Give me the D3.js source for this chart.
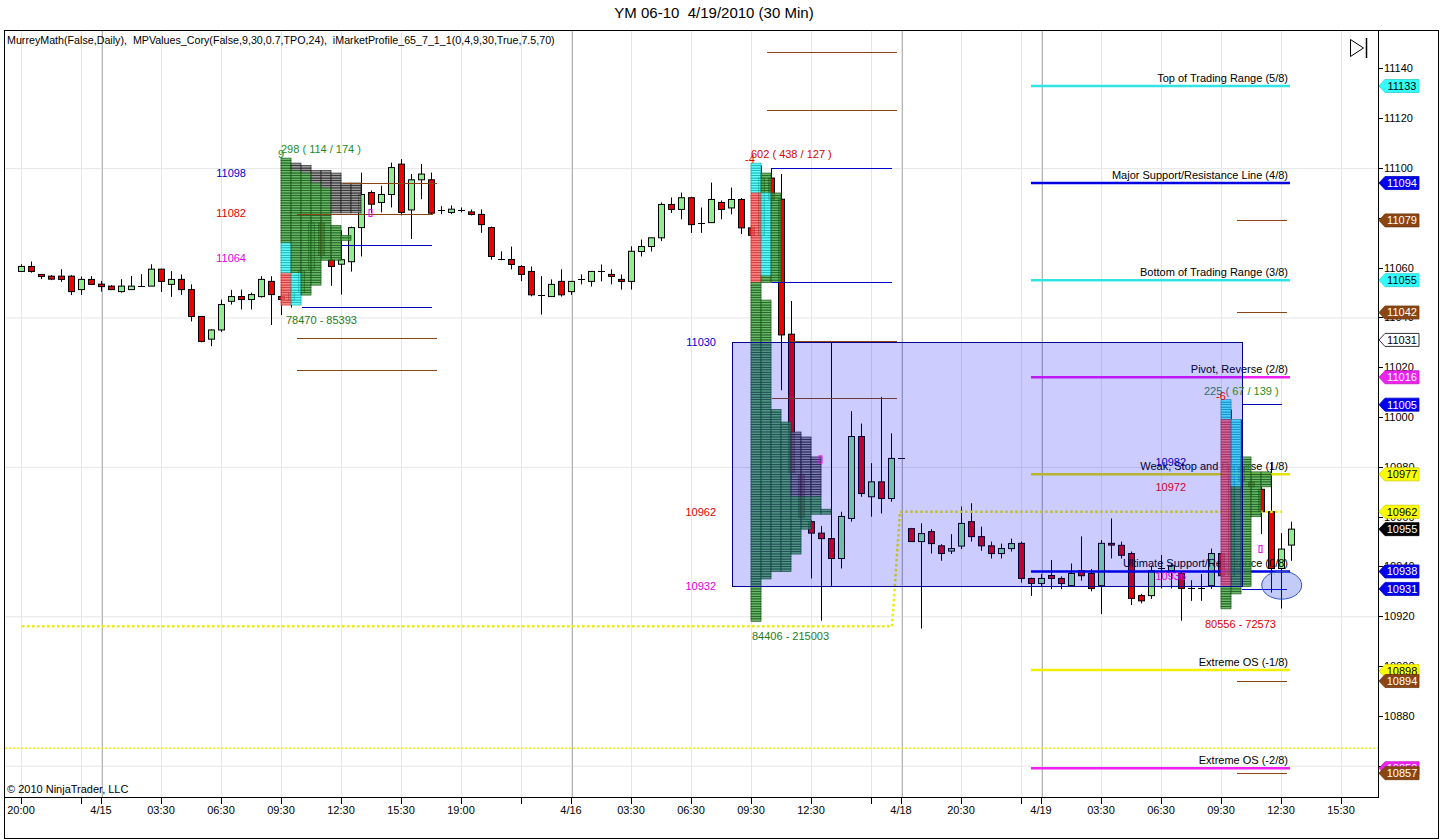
<!DOCTYPE html>
<html><head><meta charset="utf-8">
<script src="https://cdn.jsdelivr.net/npm/d3@7"></script>
<style>
body{margin:0;background:#fff}
svg{display:block}
text{font-family:"Liberation Sans Narrow","Arial Narrow","Liberation Sans",Arial,sans-serif;white-space:pre}
</style>
</head><body>
<svg id="c" width="1440" height="840"></svg>
<script>
// ---------------- DATA ----------------
const opens =[11058.5,11060.5,11057.3,11056.6,11056.6,11056.6,11051.2,11055.3,11053.4,11052.6,11050.4,11051.2,11052.6,11052.6,11059.4,11053.3,11055.3,11051.2,11040.4,11031.3,11035,11046.5,11048.4,11047.2,11048.4,11054.5,11048.4,11047,11050,11059.4,11078,11063.2,11061.4,11062.4,11076.1,11090.2,11086.2,11089.4,11101.6,11083.2,11095.3,11095.3,11083.1,11082.2,11083.2,11082.4,11081.4,11076.1,11063.3,11063.3,11060.5,11058.5,11049.2,11048.4,11054.5,11050.4,11055.3,11054.5,11058.5,11057.3,11055.3,11054.5,11066.5,11068.5,11072,11085.4,11083.4,11088.1,11078.1,11078.1,11086.2,11084,11087.4,11076,11073,11096,11087.5,11033.3,10977,10958,10953.4,10951.2,10943.2,10959.3,10992.2,10968,10974,10967.3,10983.4,10955.2,10950,10954,10948.3,10946.2,10948.2,10958,10952,10948.3,10945.2,10947.2,10949.3,10935.2,10933.2,10936.4,10935.2,10932.3,10938.3,10937.2,10932.3,10949.3,10948.5,10945.2,10928.3,10928.3,10939.2,10938.3,10937.2,10931.2,10931.2,10932.3,10945.2,10936,10980,10974,10971,10962,10939.2,10948.6];
const highs =[11061.4,11062.5,11057.5,11057,11059.4,11057,11056.5,11056.6,11054.7,11053,11055.4,11056.7,11057.4,11061.4,11059.6,11058.6,11057.3,11053.3,11040.6,11035.3,11047.2,11051.1,11051.2,11050,11056.6,11056.6,11052.7,11052,11060,11079,11080,11067.4,11075,11076.5,11098.2,11091,11092.9,11102.2,11103.6,11097.6,11101.6,11098.2,11084.7,11085,11084.2,11083.4,11083.4,11076.5,11066.6,11068.5,11061,11060.5,11056.6,11055.3,11059.4,11054.6,11057.3,11058.6,11061.3,11059.4,11057.3,11068.6,11071.3,11072,11086.2,11088.2,11090.2,11088.5,11084.2,11094.2,11087,11092.2,11088,11077,11101,11100,11097.6,11046.6,10982,10958.5,10956.3,11030.2,10962,11002.4,10997.4,10981.5,11008.1,10993.5,10983.4,10955.5,10957.4,10955,10949,10953,10964.1,10965.4,10956,10950,10949.2,10951.2,10950,10935.5,10937,10942.6,10936,10941.2,10952.1,10939,10950.6,10959.3,10950,10946,10929,10940.3,10944.6,10941,10938,10934.5,10937,10947.2,10946,11003,10999,10976,10972,10981.8,10953.4,10958];
const lows  =[11058.5,11058,11055.4,11055,11054.3,11049,11049.1,11053,11050.4,11051,11050,11051,11052.4,11052.6,11050.3,11048.3,11049.1,11038.4,11030,11028.5,11034.2,11045.2,11043.2,11043.2,11048,11037,11041,11044,11049,11058,11064,11052.7,11049.2,11058.4,11064.5,11082,11082.2,11084.2,11081,11071.5,11087.5,11081.5,11081.5,11081.5,11082.2,11081,11074,11063.2,11063,11059.3,11054.6,11048.5,11041.2,11048.4,11048.4,11049.1,11053.3,11052.4,11054.5,11053.3,11051.2,11051.2,11064.5,11066.5,11070.7,11082,11079.4,11074,11074,11078.1,11079.4,11081.4,11073.5,11072,11071,11084,11010.8,10975,10957,10935.2,10918.2,10932.2,10939.2,10958,10968,10960,10961.3,10966,10983.4,10950,10915.1,10945.2,10942.3,10945,10947,10950,10946.3,10943.2,10943.2,10946,10933.5,10928.2,10932,10930.9,10930.9,10932,10934.3,10930,10920.9,10943.2,10943.2,10924.5,10925.2,10927,10931.2,10931.2,10918.2,10926.2,10926.2,10931,10934,10933,10970,10968,10953,10929.5,10923.1,10942.3];
const closes=[11060.5,11058.5,11056.5,11055.4,11055.3,11050.4,11055.3,11053.3,11052.4,11051.2,11052.6,11052.6,11052.6,11059.4,11054.5,11055.3,11051.2,11040.4,11030.4,11035,11045.2,11048.4,11047.2,11049.2,11055.3,11049.2,11047.2,11050,11058.7,11078.1,11065,11060.5,11063.2,11076.1,11089.4,11085.5,11089.4,11100.2,11082.2,11095.3,11097.6,11081.9,11083.1,11083.5,11083.2,11081.4,11077.3,11064.5,11063.3,11061.3,11057.3,11049.1,11049.2,11053.3,11049.1,11054.5,11055.3,11058.5,11058.5,11056.5,11054.5,11066.6,11068.5,11072,11085.4,11083.4,11088.1,11077.3,11078.1,11087.4,11083.4,11087.4,11076,11073,11096,11087.5,11033,10977.7,10959.7,10953.4,10951.2,10943.2,10960.1,10992.2,10969.3,10974,10967.3,10983.4,10983.4,10950,10953.2,10949.2,10945.2,10947.2,10957.3,10952,10948.3,10945.2,10947.2,10949.2,10935.2,10933.2,10935.2,10935.2,10933.2,10937.2,10936.3,10931.2,10949.3,10948.6,10944.5,10927.2,10926.2,10938.3,10939.2,10940.3,10931.2,10931.2,10931.2,10945.2,10936.3,10980,10974.4,10972,10962,10939.2,10947,10955];

const xTickIdx   =[0,6,8,14,20,26,32,38,44,50,55,61,67,73,79,85,88,94,100,102,108,114,120,126,132];
const xTickLabels=["20:00","","4/15","03:30","06:30","09:30","12:30","15:30","19:00","","4/16","03:30","06:30","09:30","12:30","","4/18","20:30","","4/19","03:30","06:30","09:30","12:30","15:30"];
const daySeparatorIdx=[8.1,55.1,88.1,102.1];
const yTickValues=[10860,10880,10900,10920,10940,10960,10980,11000,11020,11040,11060,11080,11100,11120,11140];
const yGridValues=[11100,11040,10980,10920,10860];

const murreyValues=[11133,11094,11055,11016,10977,10938,10898.4,10859];
const murreyLabels=["Top of Trading Range (5/8)","Major Support/Resistance Line (4/8)","Bottom of Trading Range (3/8)","Pivot, Reverse (2/8)","Weak, Stop and Reverse (1/8)","Ultimate Support/Resistance (0/8)","Extreme OS (-1/8)","Extreme OS (-2/8)"];
const murreyColors=["#30e4e4","#0000e0","#30e4e4","#f020f0","#e4e400","#0000e0","#f0f000","#f020f0"];
const murreyRange=[101,126.9];

const stepLine=[[0.1,10916],[87.1,10916],[87.9,10962],[126.1,10962]];
const flatDotted=[[-1.6,10867],[135.7,10867]];

// profiles: rows [low, high, count, greenCount]; overrides [col, low, high, colour]
const profileStart=[26,73,120];
const profile1Rows=[[11102,11104,1,1],[11101,11102,2,1],[11099,11101,3,1],[11098,11099,5,2],[11094,11098,6,3],[11092,11094,8,4],[11082,11092,8,5],[11077,11082,5,5],[11073,11077,6,6],[11071,11073,7,7],[11063,11071,6,6],[11053,11063,4,4],[11049,11053,3,3],[11045,11049,2,2]];
const profile1Over=[[0,11058,11070,"cyan"],[0,11045,11058,"red"],[1,11045,11058,"cyan"]];
const profile2Rows=[[11098,11102,1,1],[11090,11098,2,2],[11054,11090,3,3],[11047,11054,1,1],[11003,11047,2,2],[10998,11003,3,3],[10994,10998,4,4],[10992,10994,5,4],[10984,10992,6,4],[10968,10984,7,4],[10963,10968,7,7],[10961,10963,8,8],[10955,10961,6,6],[10945,10955,5,5],[10938,10945,4,4],[10935,10938,2,2],[10918,10935,1,1]];
const profile2Over=[[0,11090,11102,"cyan"],[0,11054,11090,"red"],[1,11057,11090,"cyan"]];
const profile3Rows=[[10999,11007,1,1],[10984,10999,2,2],[10978,10984,3,3],[10972,10978,5,5],[10960,10972,4,4],[10932,10960,3,3],[10929,10932,2,2],[10923,10929,1,1]];
const profile3Over=[[0,10999,11007,"cyan"],[0,10932,10999,"red"],[1,10972,10999,"cyan"]];

const profileLevelLabels=[["11098","11082","11064"],["11030","10962","10932"],["10982","10972","10936"]];
const profileLevelValues=[[11098,11082,11064],[11030,10962,10932],[10982,10972,10936]];
const profileHeaders=[["298 ( 114 / 174 )"],["602 ( 438 / 127 )"],["225 ( ","67 / 139 )"]];
const profileCounters=["9","-4","-6"];
const profileFooters=["78470 - 85393","84406 - 215003","80556 - 72573"];

// value-area / level lines: [value, startIdx, endIdx, kind]
const levelLines=[[11093.9,32.2,41.6,"b"],[11081.6,27.6,41.2,"b"],[11069.0,32.1,41.1,"n"],[11044.2,28.1,41.1,"n"],[11031.6,27.6,41.6,"b"],[11018.9,27.6,41.6,"b"],
 [11146.6,74.6,87.6,"b"],[11123.3,74.6,87.6,"b"],[11099.9,75.1,87.1,"n"],[11054.1,75.1,87.1,"n"],[11030.7,77.0,87.6,"b"],[11007.8,75.1,87.6,"b"],
 [11079.0,121.6,126.6,"b"],[11042.1,121.6,126.6,"b"],[11005.3,122.1,126.1,"n"],[10930.9,122.1,126.6,"n"],[10893.9,121.6,126.6,"b"],[10857.0,121.6,126.6,"b"]];

const boxRange=[71.07,122.07]; const boxValues=[11030,10932];
const markers=[[34.9,11082],[79.9,10983],[123.9,10947]];
const ellipseCenter=[126.07,10932.5];

const flagValues=[11133,11094,11079,11055,11042,11031,11016,11005,10977,10962,10955,10938,10931,10898,10894,10859,10857];
const flagBg=["#33ffff","#0000ee","#8b4513","#33ffff","#8b4513","#ffffff","#ee22ee","#0000ee","#ffff00","#ffff00","#000000","#0000ee","#0000ee","#ffff00","#8b4513","#ee22ee","#8b4513"];
const flagFg=["#000","#fff","#fff","#000","#fff","#000","#fff","#fff","#000","#000","#fff","#fff","#fff","#000","#fff","#fff","#fff"];

// ---------------- DRAW ----------------
const svg=d3.select("#c");
const L=4, R=1378, T=30, B=797;
const x=d3.scaleLinear().domain([-1.6,135.7]).range([5,R]);
const y=d3.scaleLinear().domain([10847.43,11155.46]).range([B,T]);
const bw=x(1)-x(0);

svg.append("rect").attr("width",1440).attr("height",840).attr("fill","#fff");
const plot=svg.append("g");
svg.append("clipPath").attr("id","pc").append("rect").attr("x",L).attr("y",T).attr("width",R-L).attr("height",B-T);
plot.attr("clip-path","url(#pc)");

// grid
plot.selectAll(".hg").data(yGridValues).join("line").attr("x1",L).attr("x2",R).attr("y1",d=>y(d)+.5).attr("y2",d=>y(d)+.5).attr("stroke","#e6e6e6");
plot.selectAll(".vg").data(xTickIdx).join("line").attr("x1",d=>Math.round(x(d))+.5).attr("x2",d=>Math.round(x(d))+.5).attr("y1",T).attr("y2",B).attr("stroke","#e6e6e6");
plot.selectAll(".ds").data(daySeparatorIdx).join("line").attr("x1",d=>Math.round(x(d))+.5).attr("x2",d=>Math.round(x(d))+.5).attr("y1",T).attr("y2",B).attr("stroke","#b4b4b4");

// candles
const idx=d3.range(opens.length);
const cg=plot.append("g");
cg.selectAll(".wk").data(idx).join("line").attr("x1",i=>Math.round(x(i))+.5).attr("x2",i=>Math.round(x(i))+.5)
  .attr("y1",i=>y(highs[i])).attr("y2",i=>y(lows[i])).attr("stroke","#000").attr("stroke-width",1);
cg.selectAll(".bd").data(idx.filter(i=>Math.abs(opens[i]-closes[i])>=0.4)).join("rect")
  .attr("x",i=>Math.round(x(i))-2.5).attr("width",6)
  .attr("y",i=>y(Math.max(opens[i],closes[i]))).attr("height",i=>Math.max(1,Math.abs(y(opens[i])-y(closes[i]))))
  .attr("fill",i=>closes[i]>opens[i]?"#90ee90":"#ee0000").attr("stroke","#000").attr("stroke-width",1);
cg.selectAll(".dj").data(idx.filter(i=>Math.abs(opens[i]-closes[i])<0.4)).join("line")
  .attr("x1",i=>Math.round(x(i))-3).attr("x2",i=>Math.round(x(i))+4).attr("y1",i=>Math.round(y(closes[i]))+.5).attr("y2",i=>Math.round(y(closes[i]))+.5).attr("stroke","#000");

// dotted yellow lines
const ln=d3.line().x(d=>x(d[0])).y(d=>y(d[1]));
plot.append("path").attr("d",ln(stepLine)).attr("fill","none").attr("stroke","#eeee00").attr("stroke-width",2.5).attr("stroke-dasharray","2.5,2.5");
plot.append("path").attr("d",ln(flatDotted)).attr("fill","none").attr("stroke","#eeee00").attr("stroke-width",1.5).attr("stroke-dasharray","2,2");

// murrey lines
const mg=plot.append("g");
mg.selectAll("line").data(murreyValues).join("line").attr("x1",x(murreyRange[0])).attr("x2",x(murreyRange[1]))
  .attr("y1",d=>y(d)).attr("y2",d=>y(d)).attr("stroke",(d,i)=>murreyColors[i]).attr("stroke-width",2.5);
mg.selectAll("text").data(murreyValues).join("text").attr("x",x(murreyRange[1])-2).attr("y",d=>y(d)-4)
  .attr("text-anchor","end").attr("font-size",11).attr("fill","#000").text((d,i)=>murreyLabels[i]);

// profiles
const pal={green:["#45a845","#1d561d"],gray:["#858585","#222222"],cyan:["#40ffff","#19a6a6"],red:["#ff6868","#c83232"]};
function drawProfile(start,rows,over){
  const cells=[];
  rows.forEach(([a,b,count,ng])=>{
    for(let v=a;v<b;v++) for(let c=0;c<count;c++){
      let col=c<ng?"green":"gray";
      over.forEach(([oc,oa,ob,ocol])=>{ if(oc===c&&v>=oa&&v<ob) col=ocol; });
      cells.push({v,c,col});
    }
  });
  plot.append("g").selectAll("rect").data(cells).join("rect")
    .attr("x",d=>x(start+d.c)).attr("width",bw)
    .attr("y",d=>y(d.v+1)).attr("height",d=>y(d.v)-y(d.v+1))
    .attr("fill",d=>pal[d.col][0]).attr("fill-opacity",0.82)
    .attr("stroke",d=>pal[d.col][1]).attr("stroke-width",0.7);
}
drawProfile(profileStart[0],profile1Rows,profile1Over);
drawProfile(profileStart[1],profile2Rows,profile2Over);
drawProfile(profileStart[2],profile3Rows,profile3Over);

// level lines
plot.selectAll(".lv").data(levelLines).join("line").attr("x1",d=>x(d[1])).attr("x2",d=>x(d[2]))
  .attr("y1",d=>Math.round(y(d[0]))+.5).attr("y2",d=>Math.round(y(d[0]))+.5)
  .attr("stroke",d=>d[3]==="b"?"#8b4513":"#0000c8").attr("stroke-width",1);

// value box overlay
plot.append("rect").attr("x",Math.round(x(boxRange[0]))+.5).attr("y",Math.round(y(boxValues[0]))+.5)
  .attr("width",x(boxRange[1])-x(boxRange[0])).attr("height",y(boxValues[1])-y(boxValues[0]))
  .attr("fill","rgba(0,0,255,0.2)").attr("stroke","#00008b").attr("stroke-width",1);

// ellipse
plot.append("ellipse").attr("cx",x(ellipseCenter[0])).attr("cy",y(ellipseCenter[1])).attr("rx",20).attr("ry",14)
  .attr("fill","rgba(40,70,230,0.28)").attr("stroke","#3355cc").attr("stroke-width",1);

// markers
plot.selectAll(".mk").data(markers).join("rect").attr("x",d=>x(d[0])-1).attr("y",d=>y(d[1])-3.5).attr("width",3).attr("height",7)
  .attr("fill","none").attr("stroke","#ee00ee").attr("stroke-width",1);

// profile texts
const levelColors=["#0000cc","#dd0000","#dd00dd"];
const levelColors3=["#0000cc","#cc0033","#dd00dd"];
const profileTops=[11104,11102,11007], profileBottoms=[11045,10918,10923];
const headerDx=[0,0,-17], footerDx=[5,1,-16];
profileStart.forEach((s,p)=>{
  const xs=x(s);
  profileLevelValues[p].forEach((v,k)=>{
    plot.append("text").attr("x",xs-35).attr("y",y(v)).attr("dy","0.35em").attr("text-anchor","end")
      .attr("font-size",11).attr("fill",(p===2?levelColors3:levelColors)[k]).text(profileLevelLabels[p][k]);
  });
  const ht=plot.append("text").attr("x",xs+headerDx[p]).attr("y",y(profileTops[p])-9).attr("dy","0.35em").attr("font-size",11);
  if(p===2){ ht.append("tspan").attr("fill","#2a6f6f").text(profileHeaders[p][0]); ht.append("tspan").attr("fill","#1e8c1e").text(profileHeaders[p][1]); }
  else ht.append("tspan").attr("fill",p===0?"#1e8c1e":"#dd0000").text(profileHeaders[p][0]);
  plot.append("text").attr("x",p===0?xs-3:(p===1?xs-6:xs-5)).attr("y",y(profileTops[p])-1).attr("dy","0.1em").attr("font-size",11)
    .attr("fill",p===0?"#1e8c1e":"#dd0000").text(profileCounters[p]);
  plot.append("text").attr("x",xs+footerDx[p]).attr("y",y(profileBottoms[p])+15).attr("dy","0.35em").attr("font-size",11)
    .attr("fill",p===2?"#dd0000":"#1e7a1e").text(profileFooters[p]);
});

// legend & copyright
svg.append("text").attr("x",7).attr("y",40).attr("dy","0.35em").attr("font-size",10.7).attr("fill","#000")
  .text("MurreyMath(False,Daily),  MPValues_Cory(False,9,30,0.7,TPO,24),  iMarketProfile_65_7_1_1(0,4,9,30,True,7.5,70)");
svg.append("text").attr("x",7).attr("y",789).attr("dy","0.35em").attr("font-size",11).attr("fill","#000").text("\u00a9 2010 NinjaTrader, LLC");
svg.append("text").attr("x",714).attr("y",13).attr("dy","0.35em").attr("text-anchor","middle").attr("font-size",15).attr("fill","#000").text("YM 06-10  4/19/2010 (30 Min)");

// icon
svg.append("path").attr("d","M1350.5,39.5 L1350.5,56.5 L1363.5,48 Z").attr("fill","none").attr("stroke","#000");
svg.append("line").attr("x1",1366.5).attr("x2",1366.5).attr("y1",38).attr("y2",58).attr("stroke","#000").attr("stroke-width",1.5);

// frame & axes
svg.append("rect").attr("x",L+.5).attr("y",T+.5).attr("width",1434).attr("height",808).attr("fill","none").attr("stroke","#000");
svg.append("line").attr("x1",R+.5).attr("x2",R+.5).attr("y1",T).attr("y2",B).attr("stroke","#000");
svg.append("line").attr("x1",L).attr("x2",R+1).attr("y1",B+.5).attr("y2",B+.5).attr("stroke","#000");

// y axis
const ya=svg.append("g");
ya.selectAll("line").data(yTickValues).join("line").attr("x1",R).attr("x2",R+5).attr("y1",d=>Math.round(y(d))+.5).attr("y2",d=>Math.round(y(d))+.5).attr("stroke","#000");
ya.selectAll("text").data(yTickValues).join("text").attr("x",R+6).attr("y",d=>y(d)).attr("dy","0.35em").attr("font-size",11).attr("fill","#000").text(d=>d);

// x axis
const xa=svg.append("g");
xa.selectAll("line").data(xTickIdx).join("line").attr("x1",d=>Math.round(x(d))+.5).attr("x2",d=>Math.round(x(d))+.5).attr("y1",B).attr("y2",B+7).attr("stroke","#000");
xa.selectAll("text").data(xTickIdx).join("text").attr("x",d=>x(d)).attr("y",B+13).attr("dy","0.35em").attr("text-anchor","middle").attr("font-size",11).attr("fill","#000").text((d,i)=>xTickLabels[i]);

// flags
const fg=svg.append("g");
flagValues.forEach((v,i)=>{
  const cy=y(v);
  fg.append("path").attr("d",`M${R+1},${cy} L${R+7},${cy-6.5} L1419,${cy-6.5} L1419,${cy+6.5} L${R+7},${cy+6.5} Z`)
    .attr("fill",flagBg[i]).attr("stroke",flagBg[i]==="#ffffff"?"#000":d3.color(flagBg[i]).darker(0.6)).attr("stroke-width",0.8);
  fg.append("text").attr("x",1402).attr("y",cy).attr("dy","0.36em").attr("text-anchor","middle").attr("font-size",11).attr("fill",flagFg[i]).text(v);
});
</script>
</body></html>
